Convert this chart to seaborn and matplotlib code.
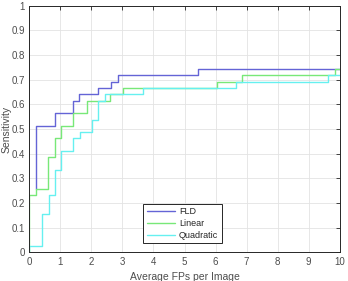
import matplotlib
matplotlib.use('Agg')
import matplotlib.pyplot as plt
import pandas as pd
import seaborn as sns

# step curves (drawn with steps-post)
fld_x = [0.22, 0.22, 0.82, 1.42, 1.60, 2.22, 2.63, 2.85, 5.43, 10]
fld_y = [0.256, 0.513, 0.564, 0.615, 0.641, 0.667, 0.692, 0.718, 0.744, 0.744]

lin_x = [0, 0, 0.22, 0.61, 0.83, 1.01, 1.42, 1.85, 2.60, 3.03, 6.04, 6.86, 9.85, 10]
lin_y = [0, 0.231, 0.256, 0.385, 0.462, 0.513, 0.564, 0.615, 0.641, 0.667, 0.692, 0.718, 0.744, 0.744]

quad_x = [0, 0, 0.42, 0.63, 0.83, 1.01, 1.42, 1.63, 2.01, 2.22, 2.44, 3.65, 6.65, 9.63, 10]
quad_y = [0, 0.026, 0.154, 0.231, 0.333, 0.410, 0.462, 0.487, 0.538, 0.615, 0.641, 0.667, 0.692, 0.718, 0.718]

names = ['FLD', 'Linear', 'Quadratic']
colors = ['#6464d6', '#78e878', '#66f0f0']

df = pd.concat([
    pd.DataFrame({'fp': fld_x, 'sens': fld_y, 'method': 'FLD'}),
    pd.DataFrame({'fp': lin_x, 'sens': lin_y, 'method': 'Linear'}),
    pd.DataFrame({'fp': quad_x, 'sens': quad_y, 'method': 'Quadratic'}),
], ignore_index=True)

sns.set_style('whitegrid')
plt.rcParams['font.family'] = ['Liberation Sans', 'DejaVu Sans']

fig = plt.figure(figsize=(3.48, 2.81), dpi=100)
ax = fig.add_axes([0.0842, 0.102, 0.892, 0.878])

sns.lineplot(data=df, x='fp', y='sens', hue='method', hue_order=names,
             palette=colors, estimator=None, sort=False,
             drawstyle='steps-post', linewidth=1.0, ax=ax)

ax.set_xlim(0, 10)
ax.set_ylim(0, 1)
ax.set_xticks(range(0, 11))
ax.set_yticks([i / 10 for i in range(11)])
ax.set_yticklabels(['0', '0.1', '0.2', '0.3', '0.4', '0.5', '0.6', '0.7', '0.8', '0.9', '1'])
ax.grid(True, color='#e3e3e3', linewidth=0.6)
for s in ax.spines.values():
    s.set_color('#262626')
    s.set_linewidth(0.7)
ax.tick_params(axis='both', which='both', direction='in', length=3, width=0.6,
               top=True, right=True, labelsize=7, labelcolor='#4d4d4d', color='#262626', pad=3)
ax.set_xlabel('Average FPs per Image', fontsize=7.5, color='#4d4d4d', labelpad=4)
ax.set_ylabel('Sensitivity', fontsize=7.5, color='#4d4d4d', labelpad=0)

leg = ax.legend(loc='lower left', bbox_to_anchor=(0.366, 0.0365), borderaxespad=0,
                fontsize=6.5, frameon=True, fancybox=False, handlelength=3.2,
                borderpad=0.4, labelspacing=0.3, handletextpad=0.4)
leg.get_frame().set_edgecolor('#262626')
leg.get_frame().set_linewidth(0.7)
leg.get_frame().set_alpha(1)

fig.savefig('out.png', dpi=100)
